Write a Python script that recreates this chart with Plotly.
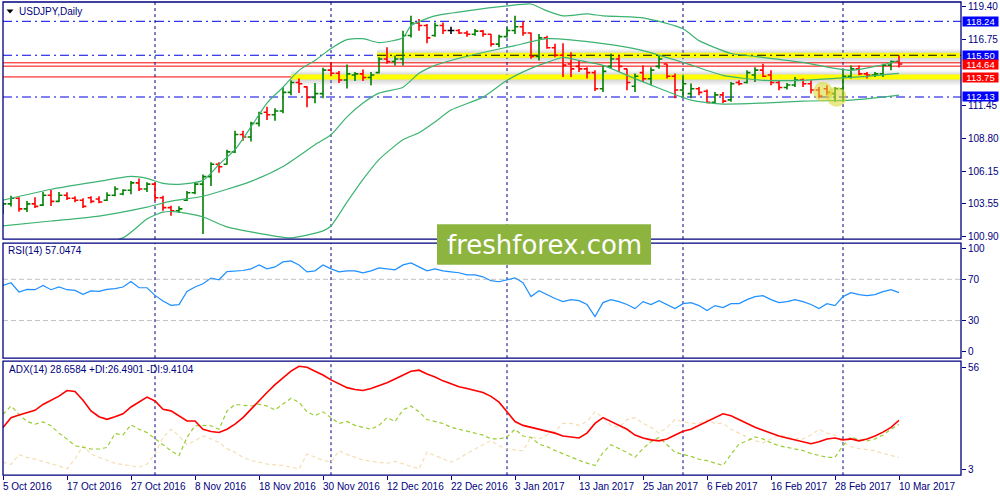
import plotly.graph_objects as go
import pandas as pd

# ---------------- data ----------------
N = 113
dates = pd.bdate_range("2016-10-05", periods=N)

opens = [103.0,103.5,103.95,103.1,103.5,103.4,104.2,103.7,104.2,103.95,
         103.8,104.0,103.9,103.8,104.2,104.3,104.6,105.2,104.7,105.1,
         104.0,103.2,102.95,103.8,104.4,105.1,105.7,106.7,106.7,107.7,
         109.1,108.9,110.0,110.9,110.7,111.0,112.5,113.3,112.95,112.1,
         112.4,114.3,114.05,113.5,113.9,114.0,113.7,114.1,115.2,115.0,
         115.2,117.1,118.1,117.9,117.1,117.9,117.5,117.5,117.3,117.2,
         117.45,117.2,116.4,117.0,117.5,117.8,117.3,115.4,116.9,116.1,
         115.5,114.8,114.6,114.4,114.1,112.8,114.6,115.2,114.4,113.0,
         114.1,113.6,114.6,114.8,113.8,112.7,112.4,112.8,112.6,111.7,
         112.3,111.9,113.3,113.3,113.9,114.3,113.9,113.3,112.9,113.1,
         113.5,113.2,112.7,112.8,112.4,112.8,113.8,114.4,114.0,113.9,
         114.0,114.7,115.0]
highs = [103.64,104.15,104.04,103.74,104.04,104.46,104.62,104.46,104.44,104.12,
         103.96,104.12,104.12,104.44,104.92,104.68,105.34,105.56,105.24,105.24,
         104.16,103.36,103.32,104.54,105.24,105.88,106.86,106.86,107.88,109.4,
         109.4,110.14,110.94,111.34,111.22,112.94,113.48,113.62,113.00,113.26,
         114.50,114.94,114.22,114.76,114.14,114.34,114.14,115.34,116.14,115.48,
         117.48,118.68,118.42,118.02,118.14,118.14,117.80,117.62,117.48,117.62,
         117.54,117.22,117.16,117.74,118.68,118.22,117.34,117.22,117.08,116.42,
         116.46,115.74,115.08,114.54,114.28,114.68,115.62,115.48,114.42,114.02,
         114.68,114.54,115.48,114.82,114.02,113.88,113.22,112.94,112.74,112.54,
         112.54,113.34,113.48,114.28,114.54,114.82,114.28,113.48,113.26,113.74,
         113.62,113.48,112.94,113.08,112.94,114.28,114.68,114.68,114.14,114.14,
         114.82,115.08,115.48]
lows = [102.68,103.30,102.86,102.84,103.16,103.34,103.34,103.66,103.82,103.64,
        103.16,103.56,103.56,103.74,104.12,104.20,104.28,104.54,104.46,103.74,
        102.94,102.54,102.76,103.74,104.28,101.08,104.94,106.02,106.68,107.6,
        108.6,108.54,109.74,110.28,110.22,110.82,112.28,112.46,111.30,111.62,
        112.02,113.80,113.26,112.82,113.42,113.42,113.08,114.02,114.82,114.68,
        114.68,116.94,117.48,116.46,117.00,117.22,117.22,117.22,117.00,117.08,
        117.00,116.20,116.14,116.94,117.22,117.08,115.22,115.08,116.02,115.34,
        113.74,113.74,114.14,113.62,112.62,112.54,114.42,114.14,112.68,112.54,
        113.34,113.08,114.42,113.62,112.02,112.02,112.02,112.28,111.62,111.62,
        111.62,111.74,113.08,113.22,113.34,113.74,113.08,112.68,112.74,112.94,
        112.94,112.42,112.02,112.28,111.74,111.74,113.62,113.88,113.62,113.74,
        113.74,114.28,114.52]
closes = [103.5,103.95,103.1,103.5,103.3,104.2,103.7,104.2,103.95,103.8,
          103.3,103.7,103.65,104.2,104.7,104.6,105.2,104.7,105.1,104.0,
          103.2,102.95,103.1,104.4,105.1,105.7,106.7,106.5,107.7,109.1,
          108.9,110.0,110.8,110.7,111.0,112.5,113.3,113.2,112.1,112.4,
          114.3,114.05,113.5,114.0,114.0,113.7,113.9,115.2,115.0,115.2,
          117.1,118.1,117.9,116.9,117.9,117.5,117.5,117.3,117.2,117.45,
          117.2,116.4,117.0,117.5,117.8,117.3,115.4,116.9,116.1,115.5,
          114.7,114.4,114.4,114.1,112.8,114.2,115.2,114.6,113.3,113.8,
          113.6,114.3,115.2,113.8,112.7,113.2,112.8,112.5,111.7,112.3,
          111.8,113.2,113.2,114.1,114.3,113.8,113.3,112.9,113.1,113.5,
          113.2,112.7,112.2,112.5,112.8,113.8,114.4,114.0,113.9,114.0,
          114.7,115.0,114.8]

# Bollinger bands (read at sampled bars)
bb_upper_idx = [0,6,12,16,18,20,22,25,27,29,31,33,35,37,39,41,43,45,47,50,
                51,54,58,63,66,68,70,73,75,80,85,87,91,93,100,104,106,109,112]
bb_upper = [103.8,104.68,105.32,105.72,105.56,105.16,105.08,105.40,106.68,107.88,
            109.72,111.64,112.92,114.28,115.08,116.04,116.76,116.84,116.52,116.92,
            117.88,118.68,119.08,119.48,119.64,119.08,118.68,118.84,118.68,118.52,
            117.64,116.68,115.64,115.48,114.92,114.44,114.28,114.6,115.08]
bb_mid_idx = [0,6,12,18,21,25,31,35,39,41,43,45,47,50,52,54,56,60,64,68,
              75,80,85,90,95,100,104,108,112]
bb_mid = [101.72,102.12,102.52,103.24,103.72,104.12,105.32,106.52,108.28,109.08,
          110.52,111.64,112.44,112.92,114.04,114.68,115.08,115.72,116.28,116.84,
          116.44,115.88,114.92,113.88,113.48,113.48,113.64,113.8,114.04]
bb_low_idx = [0,7,15,18,20,22,25,28,31,36,40,41,43,45,47,50,52,54,56,60,
              63,66,68,70,72,75,78,82,86,90,95,100,106,110,112]
bb_low = [99.64,99.88,100.76,102.28,102.84,102.84,102.44,101.64,101.24,100.76,
          101.32,101.72,103.64,105.48,107.08,108.68,109.24,110.12,111.08,112.12,
          113.48,114.44,114.92,115.32,115.08,114.68,113.88,112.84,111.88,111.56,
          111.64,111.8,111.88,112.12,112.28]

rsi = [64,66.6,57.7,60.2,59.9,64,59.9,62.5,59.9,59.2,
       55.4,58.7,58.3,60.2,60.9,62.5,67.9,61.8,61.8,54.4,
       49,44.8,45.5,58.3,62.5,65.7,71.2,69.5,77.5,78.2,
       78.5,80.1,83.9,80.1,82,86.8,87.8,83.9,77.2,78.2,
       83.9,80.1,77.2,78.2,78.2,76.3,78.2,81.1,80.1,79.1,
       83.9,85.9,82,78.2,80.1,78.2,77.2,76.3,74.3,74.3,
       72.4,68.6,67.6,69.5,71.4,66.6,53.2,58.9,55.1,51.3,
       48.4,50.3,49.3,45.5,33.9,47.4,50.3,48.4,45.5,41.6,
       48.4,45.5,49.3,45.5,41.6,46.4,47.4,44.5,39.7,44.5,
       42.6,46.4,46.4,50.3,53.2,54.1,50.3,47.4,48.4,50.3,
       48.4,45.5,41.6,46.4,44.5,53.2,57,55.1,54.1,55.1,
       58,59.9,57.05]

adx = [24.9,30,31.4,32.5,33.8,36.8,39,41.1,44,43.5,
       39,33.5,30.5,29.1,30.5,32,35.5,38,40.6,38.6,
       34.3,33.5,31,28.3,28.3,24,22.8,22.3,24,26.6,
       30,34.3,39,43,47,50.5,54,56.5,56,54,
       52,49.5,47.5,45.5,44.5,44,45,46.5,48,50,
       52,54,54.5,52.5,51,49,47.5,46,45,44,
       43,41,38,33,28,26,25,24,23,22,
       20.5,20,19.5,22,27,30,28,26,24,21,
       19.5,18.5,18,19,21,23,24,26,28,30,
       32,31,29,27,25,23.5,22,20.5,19.5,18.5,
       17.5,16.5,17.5,19,19.5,18.5,19,18,19,20.5,
       22.5,25,28.66]
plus_di = [31.7,36,31.7,28,26.6,27.8,25.8,22,18.9,15.5,
           14.6,13.8,13.8,14.6,21.8,21.1,26.3,24,22.3,18.9,
           16,12.9,10.4,19.8,25.8,26,25.8,24,33.4,36.8,
           36.5,36,37,36,34,37,40,38,33,31,
           33,30,27,28,26,25,24,26,30,28,
           34,36,33,29,28,27,25,24,23,22,
           21,19,19,20,24,20.5,19.8,16.3,15,13,
           11.2,9.5,8,6.5,5.3,12,16,14,12,9.5,
           14,17.5,19.8,16,12.1,11,10,8.5,7.8,6.5,
           5.3,11,16.3,18,20,19,17,15.5,14.6,14,
           13,11.5,10.5,9.5,9.5,15.6,20,18.5,18,19,
           21,24,26.49]
minus_di = [7,5.8,10.9,9.5,8.6,7.5,6.4,5,3.5,8.6,
            15.5,11.2,9.5,8,6.4,5.8,5,4.4,6,11.2,
            19.8,24,20.6,16,18,20.6,19,17.2,14,12.1,
            9.5,7.8,7,6,5.6,5.3,4.4,3.5,11.2,9.5,
            8,7,12.9,11,9.5,8.1,7.5,7,6.4,7.4,
            6,4.5,3.5,12.1,10.5,9,7,9,11.5,13.8,
            16,18.1,15.5,13.8,13.3,12.9,20,19,21,23,
            27,27,26,28,33,30,26,25,29,30,
            27,25,22,25,29,28,27,27,29,27,
            27,24,22,20,18,17,19,21,20,19,
            19,21,24,22,21,17,15,14,13.5,12.9,
            11.5,10.5,9.41]

# horizontal levels
blue_levels = [118.24, 115.50, 112.13]
red_levels = [114.89, 114.62, 113.75]
yellow_bands = [(115.50, 46.75), (113.75, 36.0)]   # (level, start bar)
level_labels = [("118.24", 118.24, "#0000FF"), ("115.50", 115.50, "#0000FF"),
                ("114.64", 114.74, "#FF0000"), ("113.75", 113.72, "#FF0000"),
                ("112.13", 112.16, "#0000FF")]
highlights_x = [102.5, 104.2]
highlights_y = [112.55, 112.15]

price_ticks = [119.40, 116.75, 111.45, 108.80, 106.15, 103.55, 100.90]
rsi_ticks = [100, 70, 30, 0]
adx_ticks = [56, 3]

# ---------------- figure ----------------
NAVY = "#000080"
FONT = "Liberation Sans"
x = list(range(N))
label_idx = list(range(0, N, 8))
month_starts = [i for i in range(1, N) if dates[i].month != dates[i - 1].month]

fig = go.Figure()

def ohlc_subset(idx, color):
    return go.Ohlc(x=[x[i] for i in idx], open=[opens[i] for i in idx],
                   high=[highs[i] for i in idx], low=[lows[i] for i in idx],
                   close=[closes[i] for i in idx],
                   increasing_line_color=color, decreasing_line_color=color,
                   line_width=1.6, tickwidth=0.42, hoverinfo="skip",
                   xaxis="x", yaxis="y", showlegend=False)

up = [i for i in x if closes[i] > opens[i]]
dn = [i for i in x if closes[i] < opens[i]]
dj = [i for i in x if closes[i] == opens[i]]

BBC = "#3CB371"
for ix, vals in [(bb_upper_idx, bb_upper), (bb_mid_idx, bb_mid), (bb_low_idx, bb_low)]:
    fig.add_trace(go.Scatter(x=ix, y=vals, mode="lines", xaxis="x", yaxis="y",
                             line=dict(color=BBC, width=1.2, shape="spline", smoothing=0.6),
                             hoverinfo="skip", showlegend=False))

fig.add_trace(ohlc_subset(up, "#008000"))
fig.add_trace(ohlc_subset(dn, "#FF0000"))
fig.add_trace(ohlc_subset(dj, "#000000"))

fig.add_trace(go.Scatter(x=highlights_x, y=highlights_y, mode="markers", xaxis="x", yaxis="y",
                         marker=dict(size=20, color="rgba(215,215,40,0.55)", line=dict(width=0)),
                         hoverinfo="skip", showlegend=False))

fig.add_trace(go.Scatter(x=x, y=rsi, mode="lines", xaxis="x2", yaxis="y2",
                         line=dict(color="#1E90FF", width=1.2), hoverinfo="skip", showlegend=False))

fig.add_trace(go.Scatter(x=x, y=minus_di, mode="lines", xaxis="x3", yaxis="y3",
                         line=dict(color="#F5DEB3", width=1.2, dash="4px,3px"),
                         hoverinfo="skip", showlegend=False))
fig.add_trace(go.Scatter(x=x, y=plus_di, mode="lines", xaxis="x3", yaxis="y3",
                         line=dict(color="#9ACD32", width=1.2, dash="4px,3px"),
                         hoverinfo="skip", showlegend=False))
fig.add_trace(go.Scatter(x=x, y=adx, mode="lines", xaxis="x3", yaxis="y3",
                         line=dict(color="#FF0000", width=1.6), hoverinfo="skip", showlegend=False))

XR = [0, 119.75]
xdom = [0.003, 0.961]
common_x = dict(domain=xdom, range=XR, showgrid=False, zeroline=False,
                showticklabels=False, fixedrange=True)
tickfont = dict(family=FONT, size=10, color=NAVY)
common_y = dict(side="right", showgrid=False, zeroline=False, ticks="outside",
                ticklen=4, tickcolor=NAVY, tickfont=tickfont, fixedrange=True)

fig.update_layout(
    width=1000, height=500, margin=dict(l=0, r=0, t=0, b=0),
    paper_bgcolor="white", plot_bgcolor="white", showlegend=False,
    xaxis=dict(anchor="y", rangeslider=dict(visible=False), **common_x),
    xaxis2=dict(anchor="y2", matches="x", **common_x),
    xaxis3=dict(anchor="y3", matches="x", ticks="outside", ticklen=4, tickcolor=NAVY,
                tickvals=label_idx, **common_x),
    yaxis=dict(anchor="x", domain=[0.52, 0.998], range=[100.66, 119.80],
               tickvals=price_ticks, ticktext=[f"{v:.2f}" for v in price_ticks], **common_y),
    yaxis2=dict(anchor="x2", domain=[0.28, 0.512], range=[-6.4, 105.1],
                tickvals=rsi_ticks, ticktext=[str(v) for v in rsi_ticks], **common_y),
    yaxis3=dict(anchor="x3", domain=[0.044, 0.274], range=[0.28, 59.2],
                tickvals=adx_ticks, ticktext=[str(v) for v in adx_ticks], **common_y),
)

shapes = []
# glow around yellow bands
for lvl, start in yellow_bands:
    for k in range(1, 7):
        d = 0.085 * k
        shapes.append(dict(type="rect", xref="x", yref="y", x0=start, x1=XR[1],
                           y0=lvl - d * 1.3, y1=lvl + d, fillcolor="rgba(110,110,110,0.07)",
                           line=dict(width=0), layer="below"))
for lvl, start in yellow_bands:
    shapes.append(dict(type="line", xref="x", yref="y", x0=start, x1=XR[1], y0=lvl, y1=lvl,
                       line=dict(color="#FFFF00", width=5), layer="below"))
# level lines
for lvl in blue_levels:
    shapes.append(dict(type="line", xref="x domain", yref="y", x0=0, x1=1, y0=lvl, y1=lvl,
                       line=dict(color="#0000E6", width=1, dash="9px,4px,2px,4px"), layer="below"))
shapes.append(dict(type="line", xref="x", yref="y", x0=yellow_bands[0][1], x1=XR[1],
                   y0=yellow_bands[0][0], y1=yellow_bands[0][0],
                   line=dict(color="#000000", width=1, dash="9px,4px,2px,4px"), layer="below"))
for lvl in red_levels:
    shapes.append(dict(type="line", xref="x domain", yref="y", x0=0, x1=1, y0=lvl, y1=lvl,
                       line=dict(color="#FF0000", width=1), layer="below"))
# RSI levels
for lvl in [70, 30]:
    shapes.append(dict(type="line", xref="x2 domain", yref="y2", x0=0, x1=1, y0=lvl, y1=lvl,
                       line=dict(color="#C0C0C0", width=1, dash="5px,3px"), layer="below"))
# month grid lines
for xr, yr in [("x", "y"), ("x2", "y2"), ("x3", "y3")]:
    for m in month_starts:
        shapes.append(dict(type="line", xref=xr, yref=yr + " domain", x0=m, x1=m, y0=0, y1=1,
                           line=dict(color=NAVY, width=1, dash="3px,3px"), layer="below"))
# pane borders
for xr, yr in [("x", "y"), ("x2", "y2"), ("x3", "y3")]:
    shapes.append(dict(type="rect", xref=xr + " domain", yref=yr + " domain", x0=0, x1=1,
                       y0=0, y1=1, line=dict(color=NAVY, width=1.3), layer="above"))
# title triangle
shapes.append(dict(type="path", xref="paper", yref="paper",
                   path="M 0.0065 0.983 L 0.0135 0.983 L 0.010 0.975 Z",
                   fillcolor="#000000", line=dict(width=0)))
# watermark box
shapes.append(dict(type="rect", xref="paper", yref="paper", x0=0.437, x1=0.651,
                   y0=1 - 266 / 500, y1=1 - 225 / 500, fillcolor="#8DB43E",
                   line=dict(width=0), layer="above"))

annotations = []
annotations.append(dict(xref="paper", yref="paper", x=0.017, y=1 - 10.7 / 500, xanchor="left",
                        yanchor="middle", text="USDJPY,Daily", showarrow=False,
                        font=dict(family=FONT, size=10, color=NAVY)))
annotations.append(dict(xref="paper", yref="paper", x=0.006, y=1 - 251.7 / 500, xanchor="left",
                        yanchor="middle", text="RSI(14) 57.0474", showarrow=False,
                        font=dict(family=FONT, size=10, color=NAVY)))
annotations.append(dict(xref="paper", yref="paper", x=0.007, y=1 - 371.7 / 500, xanchor="left",
                        yanchor="middle", text="ADX(14) 28.6584 +DI:26.4901 -DI:9.4104",
                        showarrow=False, font=dict(family=FONT, size=10, color=NAVY)))
for i in label_idx:
    d = dates[i]
    annotations.append(dict(xref="x3", yref="paper", x=i, y=1 - 489 / 500, xanchor="left",
                            yanchor="middle", text=f"{d.day} {d.strftime('%b %Y')}",
                            showarrow=False, xshift=-2,
                            font=dict(family=FONT, size=10, color=NAVY)))
for txt, yv, col in level_labels:
    annotations.append(dict(xref="paper", yref="y", x=0.962, y=yv, xanchor="left",
                            yanchor="middle", text=txt, showarrow=False, bgcolor=col,
                            width=35, height=9, borderpad=0,
                            font=dict(family=FONT, size=9.5, color="white")))
annotations.append(dict(xref="paper", yref="paper", x=0.544, y=1 - 245.5 / 500,
                        xanchor="center", yanchor="middle", text="freshforex.com",
                        showarrow=False, font=dict(family="DejaVu Sans", size=26, color="white")))

fig.update_layout(shapes=shapes, annotations=annotations)
fig.write_html("out.html", config={"displayModeBar": False},
               post_script="document.body.style.margin='0';document.body.style.overflow='hidden';")
